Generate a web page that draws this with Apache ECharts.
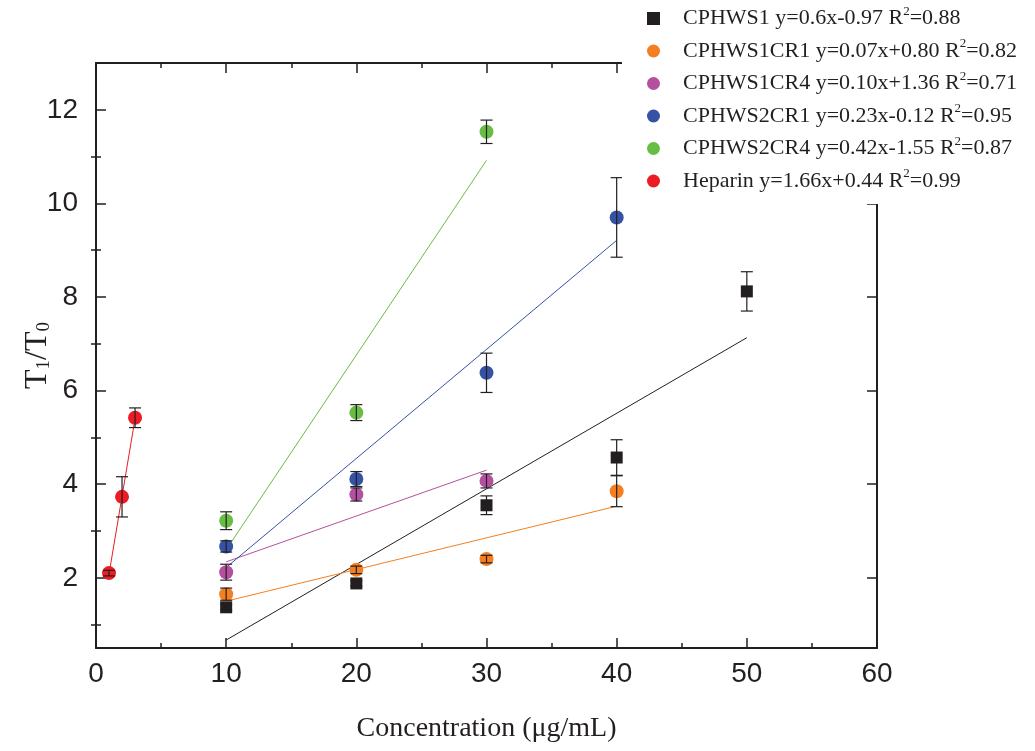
<!DOCTYPE html>
<html>
<head>
<meta charset="utf-8">
<script src="https://cdn.jsdelivr.net/npm/echarts@6/dist/echarts.min.js"></script>
<style>html,body{margin:0;padding:0;background:#fff}#c{width:1035px;height:751px}</style>
</head>
<body>
<div id="c"></div>
<script>
// ---- data ----
const names = ['CPHWS1', 'CPHWS1CR1', 'CPHWS1CR4', 'CPHWS2CR1', 'CPHWS2CR4', 'Heparin'];
const equations = ['y=0.6x-0.97', 'y=0.07x+0.80', 'y=0.10x+1.36', 'y=0.23x-0.12', 'y=0.42x-1.55', 'y=1.66x+0.44'];
const rSquared = ['0.88', '0.82', '0.71', '0.95', '0.87', '0.99'];

const xCPHWS1 = [10, 20, 30, 40, 50];
const yCPHWS1 = [1.37, 1.88, 3.55, 4.57, 8.12];
const eCPHWS1 = [0.06, 0.06, 0.20, 0.38, 0.42];

const xCPHWS1CR1 = [10, 20, 30, 40];
const yCPHWS1CR1 = [1.65, 2.17, 2.40, 3.85];
const eCPHWS1CR1 = [0.13, 0.08, 0.08, 0.33];

const xCPHWS1CR4 = [10, 20, 30];
const yCPHWS1CR4 = [2.12, 3.78, 4.07];
const eCPHWS1CR4 = [0.17, 0.14, 0.15];

const xCPHWS2CR1 = [10, 20, 30, 40];
const yCPHWS2CR1 = [2.67, 4.11, 6.38, 9.70];
const eCPHWS2CR1 = [0.12, 0.16, 0.42, 0.85];

const xCPHWS2CR4 = [10, 20, 30];
const yCPHWS2CR4 = [3.22, 5.53, 11.53];
const eCPHWS2CR4 = [0.19, 0.17, 0.25];

const xHeparin = [1, 2, 3];
const yHeparin = [2.10, 3.73, 5.42];
const eHeparin = [0.06, 0.43, 0.21];

// fitted line endpoints [x0, y0, x1, y1]
const fitCPHWS1 = [10, 0.67, 50, 7.13];
const fitCPHWS1CR1 = [10, 1.50, 40, 3.53];
const fitCPHWS1CR4 = [10, 2.34, 30, 4.30];
const fitCPHWS2CR1 = [10, 2.22, 40, 9.21];
const fitCPHWS2CR4 = [10, 2.60, 30, 10.92];
const fitHeparin = [1, 2.08, 3, 5.40];

const xTickValues = [0, 10, 20, 30, 40, 50, 60];
const yMajorTicks = [2, 4, 6, 8, 10, 12];
const yMinorTicks = [1, 3, 5, 7, 9, 11];

// ---- styling ----
const colors = ['#231f20', '#f47f20', '#b54fa0', '#3652a4', '#68bd45', '#ec1c24'];
const symbols = ['rect', 'circle', 'circle', 'circle', 'circle', 'circle'];
const symSizes = [12, 14, 14, 14, 14, 14];
const xs = [xCPHWS1, xCPHWS1CR1, xCPHWS1CR4, xCPHWS2CR1, xCPHWS2CR4, xHeparin];
const ys = [yCPHWS1, yCPHWS1CR1, yCPHWS1CR4, yCPHWS2CR1, yCPHWS2CR4, yHeparin];
const es = [eCPHWS1, eCPHWS1CR1, eCPHWS1CR4, eCPHWS2CR1, eCPHWS2CR4, eHeparin];
const fits = [fitCPHWS1, fitCPHWS1CR1, fitCPHWS1CR4, fitCPHWS2CR1, fitCPHWS2CR4, fitHeparin];

const AX = '#231f20';
const sans = "'Liberation Sans Narrow', 'Liberation Sans', Arial, sans-serif";
const serif = "'Liberation Serif', 'Times New Roman', serif";

const series = [];
names.forEach((n, i) => {
  series.push({
    name: n + ' fit', type: 'line', xAxisIndex: 0, yAxisIndex: 0,
    data: [[fits[i][0], fits[i][1]], [fits[i][2], fits[i][3]]],
    showSymbol: false, symbol: 'none', silent: true,
    lineStyle: { color: colors[i], width: 1 }, z: 2
  });
});
names.forEach((n, i) => {
  series.push({
    name: n, type: 'scatter', xAxisIndex: 0, yAxisIndex: 0,
    symbol: symbols[i], symbolSize: symSizes[i],
    itemStyle: { color: colors[i], opacity: 1 },
    data: xs[i].map((x, k) => [x, ys[i][k]]), z: 3
  });
});
const errData = [];
names.forEach((n, i) => xs[i].forEach((x, k) => errData.push([x, ys[i][k], es[i][k]])));
series.push({
  name: 'error bars', type: 'custom', xAxisIndex: 0, yAxisIndex: 0, z: 4, silent: true,
  data: errData,
  renderItem: function (params, api) {
    const x = api.value(0), y = api.value(1), e = api.value(2);
    const top = api.coord([x, y + e]);
    const bot = api.coord([x, y - e]);
    const hw = 6;
    const st = { stroke: AX, lineWidth: 1.2 };
    return {
      type: 'group', children: [
        { type: 'line', shape: { x1: top[0], y1: top[1], x2: bot[0], y2: bot[1] }, style: st },
        { type: 'line', shape: { x1: top[0] - hw, y1: top[1], x2: top[0] + hw, y2: top[1] }, style: st },
        { type: 'line', shape: { x1: bot[0] - hw, y1: bot[1], x2: bot[0] + hw, y2: bot[1] }, style: st }
      ]
    };
  }
});

const baseY = { type: 'value', min: 0.5, max: 13, splitLine: { show: false } };

const option = {
  backgroundColor: '#fff',
  animation: false,
  grid: { left: 96, right: 158, top: 63, bottom: 103, containLabel: false },
  legend: {
    orient: 'vertical', left: 622, top: 0,
    padding: [5, 12, 12, 25],
    backgroundColor: '#fff',
    itemWidth: 13, itemHeight: 13, itemGap: 8,
    data: names.map((n, i) => ({ name: n, icon: symbols[i] === 'rect' ? 'rect' : 'circle' })),
    formatter: function (name) {
      const i = names.indexOf(name);
      return '{f|' + name + ' ' + equations[i] + ' R}{s|2}{n|=' + rSquared[i] + '}';
    },
    textStyle: {
      fontFamily: serif, fontSize: 22, color: AX, lineHeight: 21,
      rich: {
        f: { fontFamily: serif, fontSize: 22, color: AX, padding: [0, 0, 0, 18] },
        n: { fontFamily: serif, fontSize: 22, color: AX },
        s: { fontFamily: serif, fontSize: 13, color: AX, padding: [0, 0, 14, 0] }
      }
    },
    z: 10
  },
  xAxis: [
    {
      type: 'value', min: 0, max: 60, interval: 10, position: 'bottom',
      name: 'Concentration (\u03bcg/mL)', nameLocation: 'middle', nameGap: 67,
      nameTextStyle: { fontFamily: serif, fontSize: 28, color: AX },
      axisLine: { show: true, onZero: false, lineStyle: { color: AX, width: 2 } },
      axisTick: { show: true, inside: true, length: 10, lineStyle: { color: AX, width: 1.5 } },
      minorTick: { show: true, splitNumber: 2, length: 5, lineStyle: { color: AX, width: 1.5 } },
      axisLabel: { fontFamily: sans, fontSize: 28, color: AX, margin: 12,
        customValues: xTickValues },
      splitLine: { show: false }
    },
    {
      type: 'value', min: 0, max: 60, interval: 10, position: 'top',
      axisLine: { show: true, onZero: false, lineStyle: { color: AX, width: 2 } },
      axisTick: { show: true, inside: true, length: 10, lineStyle: { color: AX, width: 1.5 } },
      minorTick: { show: true, splitNumber: 2, length: 5, lineStyle: { color: AX, width: 1.5 } },
      axisLabel: { show: false }, splitLine: { show: false }
    }
  ],
  yAxis: [
    Object.assign({}, baseY, {
      position: 'left',
      name: '{t|T}{b|1}{t|/T}{b|0}', nameLocation: 'middle', nameGap: 42,
      nameMoveOverlap: false,
      nameTextStyle: {
        rich: {
          t: { fontFamily: serif, fontSize: 32, color: AX },
          b: { fontFamily: serif, fontSize: 19, color: AX, padding: [14, 0, 0, 0] }
        }
      },
      axisLine: { show: true, onZero: false, lineStyle: { color: AX, width: 2 } },
      axisTick: { show: true, inside: true, length: 10, customValues: yMajorTicks, lineStyle: { color: AX, width: 1.5 } },
      axisLabel: { fontFamily: sans, fontSize: 28, color: AX, margin: 18, customValues: yMajorTicks }
    }),
    Object.assign({}, baseY, {
      position: 'left',
      axisLine: { show: false },
      axisTick: { show: true, inside: true, length: 5, customValues: yMinorTicks, lineStyle: { color: AX, width: 1.5 } },
      axisLabel: { show: false }
    }),
    Object.assign({}, baseY, {
      position: 'right',
      axisLine: { show: true, onZero: false, lineStyle: { color: AX, width: 2 } },
      axisTick: { show: true, inside: true, length: 10, customValues: yMajorTicks, lineStyle: { color: AX, width: 1.5 } },
      axisLabel: { show: false }
    }),
    Object.assign({}, baseY, {
      position: 'right',
      axisLine: { show: false },
      axisTick: { show: true, inside: true, length: 5, customValues: yMinorTicks, lineStyle: { color: AX, width: 1.5 } },
      axisLabel: { show: false }
    })
  ],
  series: series
};

const chart = echarts.init(document.getElementById('c'), null, { renderer: 'canvas' });
chart.setOption(option);
</script>
</body>
</html>
